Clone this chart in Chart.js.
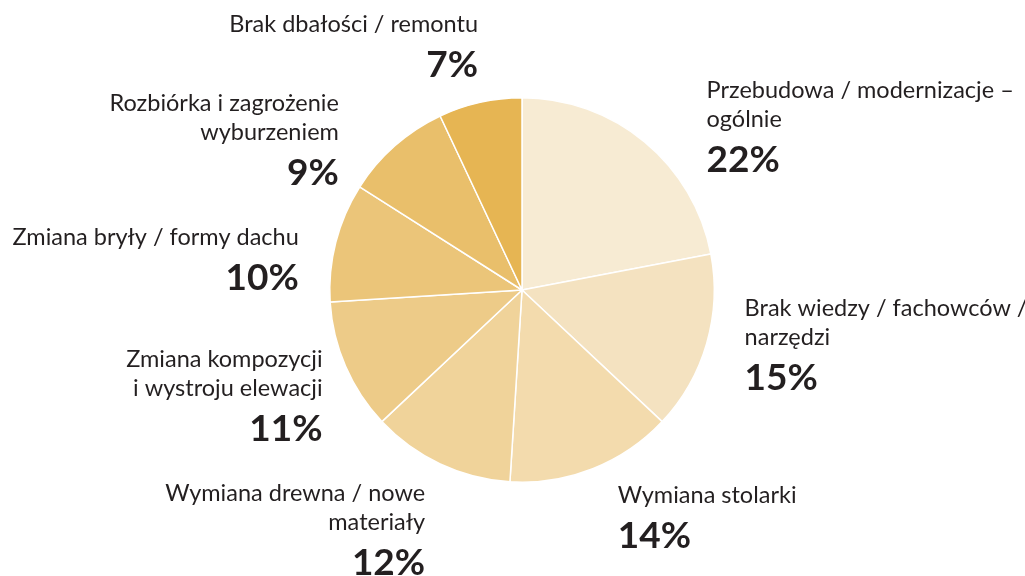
<!DOCTYPE html>
<html><head><meta charset="utf-8">
<script src="https://cdn.jsdelivr.net/npm/chart.js@4"></script>
<style>html,body{margin:0;padding:0;background:#fff;}#wrap{width:1025px;height:576px;}</style>
</head><body><div id="wrap"><canvas id="c" width="1025" height="576"></canvas></div>
<script>
const categories = [
  ["Przebudowa / modernizacje –", "ogólnie"],
  ["Brak wiedzy / fachowców /", "narzędzi"],
  ["Wymiana stolarki"],
  ["Wymiana drewna / nowe", "materiały"],
  ["Zmiana kompozycji", "i wystroju elewacji"],
  ["Zmiana bryły / formy dachu"],
  ["Rozbiórka i zagrożenie", "wyburzeniem"],
  ["Brak dbałości / remontu"]
];
const values = [22, 15, 14, 12, 11, 10, 9, 7];
const colors = ["#F7EBD3", "#F4E2C0", "#F3DBAD", "#F0D39A", "#EDCB88", "#EBC579", "#E9BF6B", "#E6B553"];

// label placement: offset of first baseline from slice's outer mid-point
const labelPlace = [
  {align:"left", dx:62, dy:-44},
  {align:"left", dx:38, dy:-28},
  {align:"left", dx:25, dy:34},
  {align:"right", dx:-15, dy:37},
  {align:"right", dx:-23, dy:1},
  {align:"right", dx:-37, dy:3},
  {align:"right", dx:-56, dy:-35},
  {align:"right", dx:-2, dy:-70}
];

const labelPlugin = {
  id: "outLabels",
  afterDatasetsDraw(chart) {
    const ctx = chart.ctx;
    const meta = chart.getDatasetMeta(0);
    meta.data.forEach((arc, i) => {
      const p = arc.getProps(["x","y","startAngle","endAngle","outerRadius"], true);
      const mid = (p.startAngle + p.endAngle) / 2;
      const ex = p.x + Math.cos(mid) * p.outerRadius;
      const ey = p.y + Math.sin(mid) * p.outerRadius;
      const pl = labelPlace[i];
      const x = ex + pl.dx;
      let y = ey + pl.dy;
      ctx.save();
      ctx.fillStyle = "#231f20";
      ctx.textAlign = pl.align;
      ctx.textBaseline = "alphabetic";
      ctx.font = "400 23.5px Lato";
      categories[i].forEach((line, k) => {
        ctx.fillText(line, x, y + k * 29);
      });
      const lastY = y + (categories[i].length - 1) * 29;
      ctx.font = "700 37px Lato";
      ctx.fillText(values[i] + "%", x, lastY + 45);
      ctx.restore();
    });
  }
};

new Chart(document.getElementById("c"), {
  type: "pie",
  data: {
    labels: categories.map(c => c.join(" ")),
    datasets: [{
      data: values,
      backgroundColor: colors,
      borderColor: "#ffffff",
      borderWidth: 1.5
    }]
  },
  options: {
    responsive: false,
    animation: false,
    layout: { padding: { top: 97, bottom: 93, left: 19, right: 0 } },
    plugins: { legend: { display: false }, tooltip: { enabled: false } }
  },
  plugins: [labelPlugin]
});
</script>
</body></html>
